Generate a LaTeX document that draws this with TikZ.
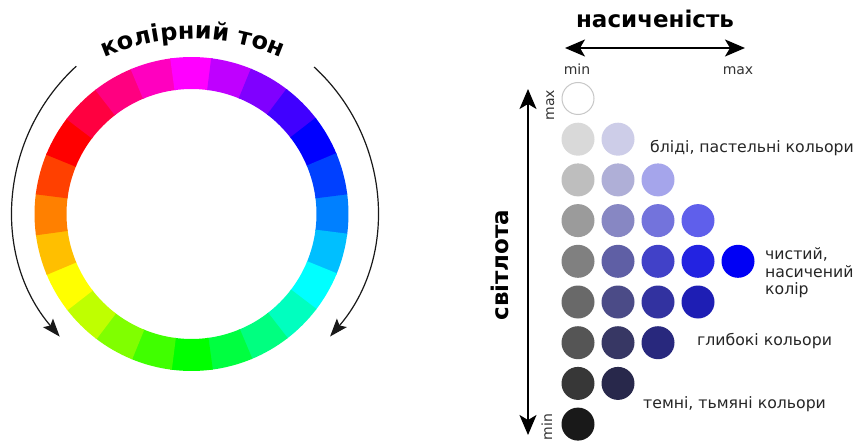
\documentclass[tikz,border=0pt]{standalone}
\usepackage{fontspec}
\setmainfont{DejaVu Sans}
\usetikzlibrary{arrows.meta,decorations.text}
\tikzset{
  dotc/.style={circle, minimum size=33pt, inner sep=0pt, outer sep=0pt},
  lbl/.style={font=\fontsize{15.7}{17.5}\selectfont, text=black!85, inner sep=0pt},
  small/.style={font=\fontsize{14}{16}\selectfont, text=black!80, inner sep=0pt},
  ttl/.style={font=\bfseries\fontsize{23}{25}\selectfont, inner sep=0pt},
  bigarrow/.style={line width=1.8pt, {Stealth[length=20pt,width=17pt,inset=5pt]}-{Stealth[length=20pt,width=17pt,inset=5pt]}},
  huearrow/.style={line width=1.2pt, draw=black!90, -{Stealth[length=18pt,width=13pt,inset=3.5pt]}}
}
\begin{document}
\begin{tikzpicture}[x=1pt,y=-1pt]
\useasboundingbox[fill=white] (0,0) rectangle (859,441);

% colour wheel
\begin{scope}[shift={(191.5,214)}]
  \foreach \k in {0,...,23}{
    \pgfmathtruncatemacro\h{mod(570-15*\k,360)}
    \definecolor{segc}{Hsb}{\h,1,1}
    \fill[segc] ({15*\k-7.8}:157) arc[start angle={15*\k-7.8}, end angle={15*\k+7.8}, radius=157]
      -- ({15*\k+7.8}:125) arc[start angle={15*\k+7.8}, end angle={15*\k-7.8}, radius=125] -- cycle;
  }
\end{scope}

% hue arrows
\begin{scope}[shift={(208,210)}]
  \coordinate (la) at (-132.5:195);
  \draw[huearrow] (la) arc[start angle=-132.5, end angle=-220.5, radius=195];
\end{scope}
\begin{scope}[shift={(183,210)}]
  \coordinate (ra) at (-47.5:194);
  \draw[huearrow] (ra) arc[start angle=-47.5, end angle=40.7, radius=194];
\end{scope}

% title along arc
\begin{scope}[shift={(193,259)}]
  \path[decorate, decoration={text along path, text align=center,
     text={|\bfseries\fontsize{24}{26}\selectfont|колірний тон}}]
     (-135:220) arc[start angle=-135, end angle=-45, radius=220];
\end{scope}

% grid of dots
\foreach \k/\j/\r/\g/\b in {
  0/0/255/255/255,
  1/0/217/217/217, 1/1/205/205/232,
  2/0/190/190/190, 2/1/175/175/215, 2/2/165/165/235,
  3/0/155/155/155, 3/1/135/135/195, 3/2/115/115/220, 3/3/95/95/235,
  4/0/128/128/128, 4/1/95/95/165, 4/2/65/65/200, 4/3/35/35/225, 4/4/0/0/245,
  5/0/105/105/105, 5/1/75/75/135, 5/2/50/50/160, 5/3/30/30/180,
  6/0/85/85/85, 6/1/55/55/100, 6/2/40/40/125,
  7/0/55/55/55, 7/1/40/40/75,
  8/0/25/25/25}{
  \definecolor{dc}{RGB}{\r,\g,\b}
  \node[dotc, fill=dc] (d\k\j) at ({578+40*\j},{98.5+40.7*\k}) {};
}
\draw[black!22, line width=1pt] (d00) circle[radius=16];

% saturation arrow
\coordinate (sl) at (565,48);
\coordinate (sr) at (745,48);
\draw[bigarrow] (sl) -- (sr);
\node[ttl, anchor=base] (sat) at (655,27.5) {насиченість};
\node[small, anchor=base] (smin) at (577,75) {min};
\node[small, anchor=base] (smax) at (738,75) {max};

% lightness arrow
\coordinate (lt) at (528,89);
\coordinate (lb) at (528,435);
\draw[bigarrow] (lt) -- (lb);
\node[ttl, anchor=base, rotate=90] (light) at (508.5,265) {світлота};
\node[small, anchor=base, rotate=90] (lmax) at (554,105) {max};
\node[small, anchor=base, rotate=90] (lmin) at (552,427) {min};

% labels
\node[lbl, anchor=base west] (pastel) at (650,152) {бліді, пастельні кольори};
\node[lbl, anchor=west, align=left] (pure) at (765,273) {чистий,\\насичений\\колір};
\node[lbl, anchor=base west] (deep) at (697,345) {глибокі кольори};
\node[lbl, anchor=base west] (dark) at (643,408) {темні, тьмяні кольори};
\end{tikzpicture}
\end{document}
